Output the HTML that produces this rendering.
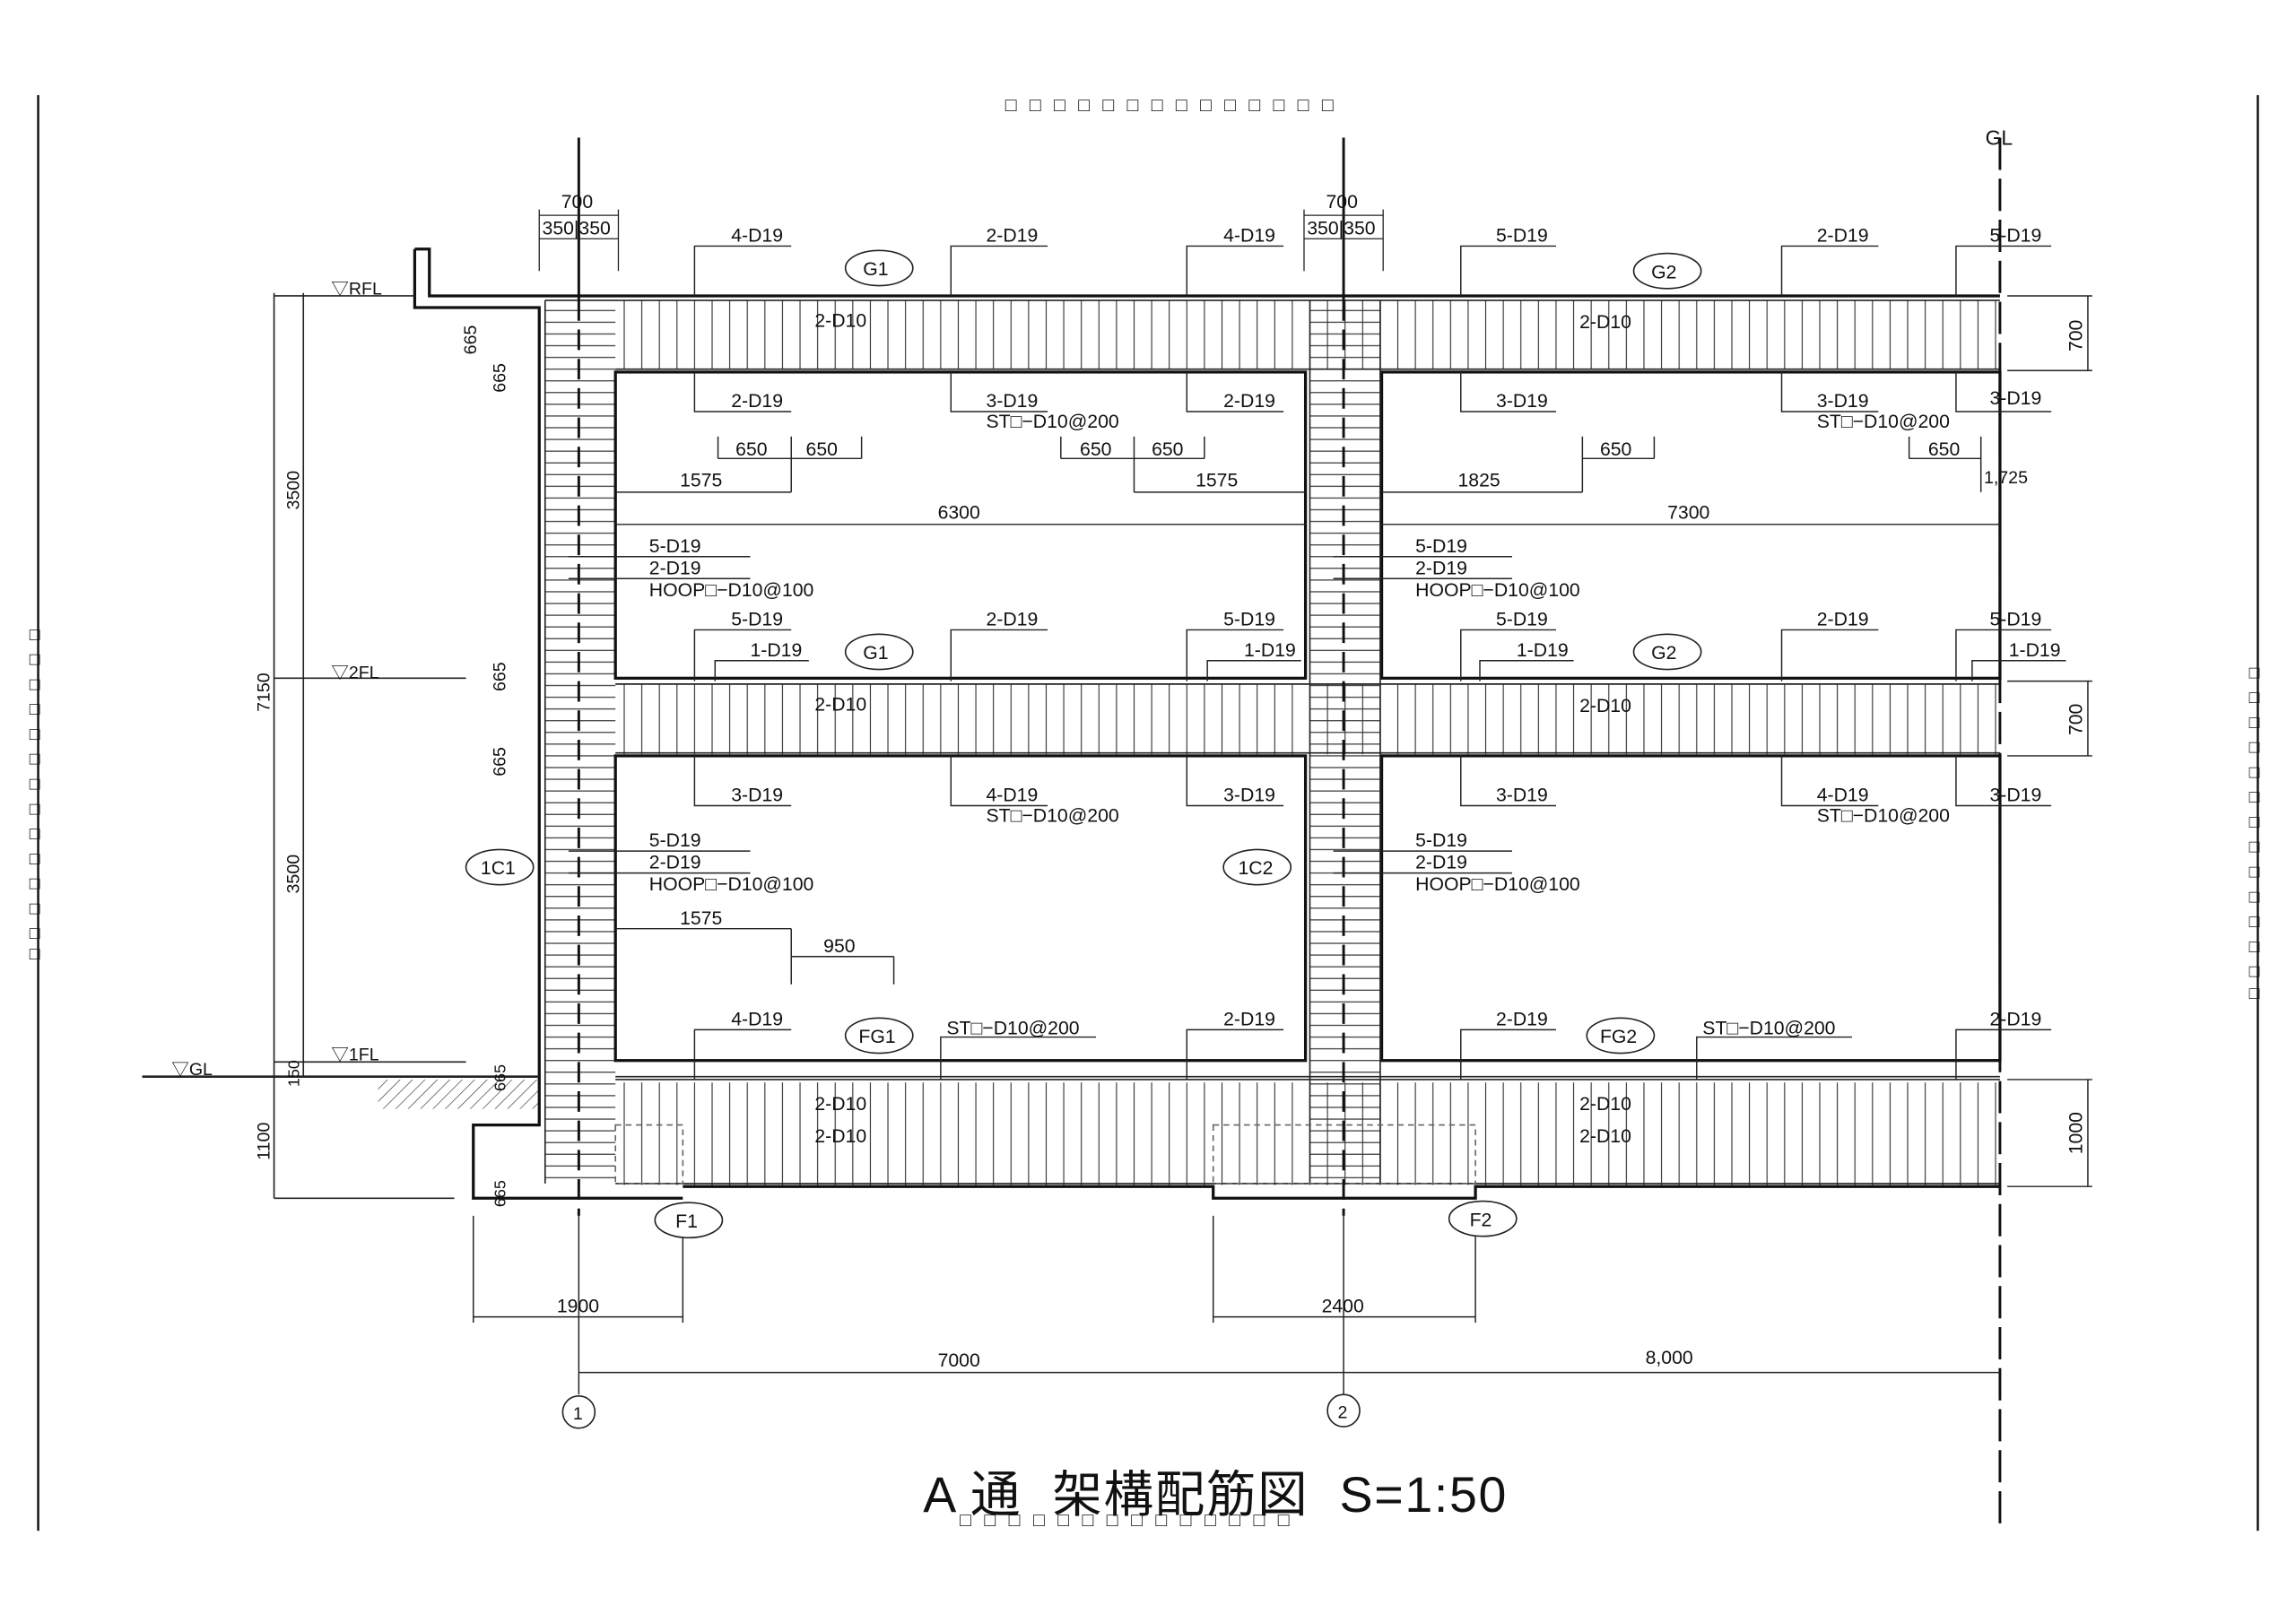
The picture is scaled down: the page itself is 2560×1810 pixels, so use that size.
<!DOCTYPE html>
<html><head><meta charset="utf-8">
<style>
html,body{margin:0;padding:0;background:#fff;}
svg{display:block;}
text{font-family:"Liberation Sans","Noto Sans CJK JP",sans-serif;fill:#111;}
</style></head>
<body>
<svg width="2560" height="1810" viewBox="0 0 1567 1108" xmlns="http://www.w3.org/2000/svg">
<defs>
<pattern id="vb" width="12" height="10" patternUnits="userSpaceOnUse"><line x1="6" y1="0" x2="6" y2="10" stroke="#333" stroke-width="0.7"/></pattern>
<pattern id="hc" width="10" height="8" patternUnits="userSpaceOnUse"><line x1="0" y1="4" x2="10" y2="4" stroke="#333" stroke-width="0.7"/></pattern>
<pattern id="gh" width="6" height="6" patternUnits="userSpaceOnUse" patternTransform="rotate(45)"><line x1="0" y1="0" x2="0" y2="6" stroke="#333" stroke-width="0.8"/></pattern>
</defs>
<rect width="1567" height="1108" fill="#fff"/>
<!-- frame -->
<line x1="26" y1="65" x2="26" y2="1045" stroke="#111" stroke-width="1.5"/>
<line x1="1541" y1="65" x2="1541" y2="1045" stroke="#111" stroke-width="1.5"/>
<g fill="#888" font-size="13">
<text x="686" y="76" textLength="224" lengthAdjust="spacing">□□□□□□□□□□□□□□</text>
<text x="655" y="1042" textLength="225" lengthAdjust="spacing">□□□□□□□□□□□□□□</text>
</g>
<g fill="#888" font-size="12">
<text x="20" y="437">□</text><text x="20" y="454">□</text><text x="20" y="471">□</text><text x="20" y="488">□</text><text x="20" y="505">□</text><text x="20" y="522">□</text><text x="20" y="539">□</text><text x="20" y="556">□</text><text x="20" y="573">□</text><text x="20" y="590">□</text><text x="20" y="607">□</text><text x="20" y="624">□</text><text x="20" y="641">□</text><text x="20" y="655">□</text>
<text x="1535" y="463">□</text><text x="1535" y="480">□</text><text x="1535" y="497">□</text><text x="1535" y="514">□</text><text x="1535" y="531">□</text><text x="1535" y="548">□</text><text x="1535" y="565">□</text><text x="1535" y="582">□</text><text x="1535" y="599">□</text><text x="1535" y="616">□</text><text x="1535" y="633">□</text><text x="1535" y="650">□</text><text x="1535" y="667">□</text><text x="1535" y="682">□</text>
</g>

<rect x="420" y="205" width="945" height="47" fill="url(#vb)"/>
<rect x="420" y="467" width="945" height="48" fill="url(#vb)"/>
<rect x="420" y="739" width="945" height="70" fill="url(#vb)"/>
<rect x="372" y="205" width="48" height="603" fill="url(#hc)"/>
<rect x="894" y="205" width="48" height="603" fill="url(#hc)"/>
<rect x="258" y="737" width="110" height="20" fill="url(#gh)"/>

<g fill="none" stroke="#111" stroke-width="2">
<path d="M283 170 H293 V202 H1365"/>
<path d="M283 170 V210 H368 V768 H323 V818 H466"/>
<rect x="420" y="254" width="471" height="209"/>
<rect x="943" y="254" width="422" height="209"/>
<rect x="420" y="516" width="471" height="208"/>
<rect x="943" y="516" width="422" height="208"/>
<path d="M466 810 H828 V818 H1007 V810 H1365"/>
</g>
<g fill="none" stroke="#222" stroke-width="1">
<line x1="420" y1="735" x2="1365" y2="735"/>
<line x1="420" y1="737" x2="1365" y2="737"/>
<line x1="372" y1="205" x2="1365" y2="205"/>
<line x1="420" y1="252" x2="1365" y2="252"/>
<line x1="420" y1="467" x2="1365" y2="467"/>
<line x1="420" y1="514" x2="1365" y2="514"/>
<line x1="372" y1="205" x2="372" y2="808"/>
<line x1="894" y1="205" x2="894" y2="808"/>
<line x1="942" y1="205" x2="942" y2="808"/>
<line x1="420" y1="808" x2="1365" y2="808"/>
<rect x="420" y="768" width="46" height="40" stroke-dasharray="4 3" stroke="#666"/>
<rect x="828" y="768" width="179" height="40" stroke-dasharray="4 3" stroke="#666"/>
</g>
<g stroke="#111" stroke-width="1.8">
<line x1="395" y1="94" x2="395" y2="205"/>
<line x1="395" y1="205" x2="395" y2="830" stroke-dasharray="14 6"/>
<line x1="917" y1="94" x2="917" y2="205"/>
<line x1="917" y1="205" x2="917" y2="830" stroke-dasharray="14 6"/>
<line x1="1365" y1="94" x2="1365" y2="1045" stroke-dasharray="22 6"/>
</g>
<text x="1355" y="99" font-size="14">GL</text>

<g stroke="#222" stroke-width="1" fill="none">
<line x1="187" y1="202" x2="283" y2="202"/>
<line x1="187" y1="463" x2="318" y2="463"/>
<line x1="187" y1="725" x2="318" y2="725"/>
<line x1="97" y1="735" x2="368" y2="735" stroke-width="1.6"/>
<line x1="187" y1="818" x2="310" y2="818"/>
<line x1="187" y1="200" x2="187" y2="818"/>
<line x1="207" y1="200" x2="207" y2="735"/>
</g>
<g font-size="12">
<text x="226" y="201">▽RFL</text>
<text x="226" y="463">▽2FL</text>
<text x="226" y="724">▽1FL</text>
<text x="117" y="734">▽GL</text>
<text transform="translate(184,486) rotate(-90)">7150</text>
<text transform="translate(204,348) rotate(-90)">3500</text>
<text transform="translate(204,610) rotate(-90)">3500</text>
<text transform="translate(204,742) rotate(-90)" font-size="11">150</text>
<text transform="translate(184,792) rotate(-90)">1100</text>
<text transform="translate(325,242) rotate(-90)">665</text>
<text transform="translate(345,268) rotate(-90)">665</text>
<text transform="translate(345,472) rotate(-90)" fill="#555">665</text>
<text transform="translate(345,530) rotate(-90)" fill="#555">665</text>
<text transform="translate(345,745) rotate(-90)" fill="#555" font-size="11">665</text>
<text transform="translate(345,824) rotate(-90)" fill="#555" font-size="11">665</text>
</g>

<g stroke="#222" stroke-width="0.8" fill="none">
<line x1="368" y1="147" x2="422" y2="147"/><line x1="368" y1="163" x2="422" y2="163"/>
<line x1="368" y1="143" x2="368" y2="185"/><line x1="422" y1="143" x2="422" y2="185"/>
<line x1="890" y1="147" x2="944" y2="147"/><line x1="890" y1="163" x2="944" y2="163"/>
<line x1="890" y1="143" x2="890" y2="185"/><line x1="944" y1="143" x2="944" y2="185"/>
</g>
<g font-size="13">
<text x="383" y="142">700</text><text x="370" y="160">350|350</text>
<text x="905" y="142">700</text><text x="892" y="160">350|350</text>
</g>

<g stroke="#222" stroke-width="0.9" fill="none">
<path d="M474 202 V168 H540"/><path d="M649 202 V168 H715"/><path d="M810 202 V168 H876"/>
<path d="M997 202 V168 H1062"/><path d="M1216 202 V168 H1282"/><path d="M1335 202 V168 H1400"/>
<path d="M474 254 V281 H540"/><path d="M649 254 V281 H715"/><path d="M810 254 V281 H876"/>
<path d="M997 254 V281 H1062"/><path d="M1216 254 V281 H1282"/><path d="M1335 254 V281 H1400"/>
<path d="M474 465 V430 H540"/><path d="M488 465 V451 H552"/><path d="M649 465 V430 H715"/><path d="M810 465 V430 H876"/><path d="M824 465 V451 H888"/>
<path d="M997 465 V430 H1062"/><path d="M1010 465 V451 H1074"/><path d="M1216 465 V430 H1282"/><path d="M1335 465 V430 H1400"/><path d="M1346 465 V451 H1410"/>
<path d="M474 516 V550 H540"/><path d="M649 516 V550 H715"/><path d="M810 516 V550 H876"/>
<path d="M997 516 V550 H1062"/><path d="M1216 516 V550 H1282"/><path d="M1335 516 V550 H1400"/>
<path d="M474 737 V703 H540"/><path d="M642 737 V708 H748"/><path d="M810 737 V703 H876"/>
<path d="M997 737 V703 H1062"/><path d="M1158 737 V708 H1264"/><path d="M1335 737 V703 H1400"/>
<path d="M388 380 H512"/><path d="M388 395 H512"/><path d="M910 380 H1032"/><path d="M910 395 H1032"/>
<path d="M388 581 H512"/><path d="M388 596 H512"/><path d="M910 581 H1032"/><path d="M910 596 H1032"/>
<line x1="490" y1="313" x2="588" y2="313"/><line x1="490" y1="298" x2="490" y2="313"/><line x1="540" y1="298" x2="540" y2="336"/><line x1="588" y1="298" x2="588" y2="313"/>
<line x1="420" y1="336" x2="540" y2="336"/>
<line x1="724" y1="313" x2="822" y2="313"/><line x1="724" y1="298" x2="724" y2="313"/><line x1="774" y1="298" x2="774" y2="336"/><line x1="822" y1="298" x2="822" y2="313"/>
<line x1="774" y1="336" x2="891" y2="336"/>
<line x1="420" y1="358" x2="891" y2="358"/>
<line x1="943" y1="336" x2="1080" y2="336"/><line x1="1080" y1="298" x2="1080" y2="336"/><line x1="1080" y1="313" x2="1129" y2="313"/><line x1="1129" y1="298" x2="1129" y2="313"/>
<line x1="1303" y1="313" x2="1352" y2="313"/><line x1="1303" y1="298" x2="1303" y2="313"/><line x1="1352" y1="298" x2="1352" y2="336"/>
<line x1="943" y1="358" x2="1365" y2="358"/>
<line x1="420" y1="634" x2="540" y2="634"/><line x1="540" y1="634" x2="540" y2="672"/><line x1="540" y1="653" x2="610" y2="653"/><line x1="610" y1="653" x2="610" y2="672"/>
<line x1="1370" y1="202" x2="1428" y2="202"/><line x1="1370" y1="253" x2="1428" y2="253"/><line x1="1425" y1="202" x2="1425" y2="253"/>
<line x1="1370" y1="465" x2="1428" y2="465"/><line x1="1370" y1="516" x2="1428" y2="516"/><line x1="1425" y1="465" x2="1425" y2="516"/>
<line x1="1370" y1="737" x2="1428" y2="737"/><line x1="1370" y1="810" x2="1428" y2="810"/><line x1="1425" y1="737" x2="1425" y2="810"/>
<line x1="323" y1="830" x2="323" y2="903"/><line x1="466" y1="830" x2="466" y2="903"/><line x1="323" y1="899" x2="466" y2="899"/>
<line x1="828" y1="830" x2="828" y2="903"/><line x1="1007" y1="830" x2="1007" y2="903"/><line x1="828" y1="899" x2="1007" y2="899"/>
<line x1="395" y1="830" x2="395" y2="952"/><line x1="917" y1="830" x2="917" y2="952"/>
<line x1="395" y1="937" x2="1365" y2="937"/>
</g>

<g fill="#fff" stroke="#222" stroke-width="1">
<ellipse cx="600" cy="183" rx="23" ry="12"/><ellipse cx="1138" cy="185" rx="23" ry="12"/>
<ellipse cx="600" cy="445" rx="23" ry="12"/><ellipse cx="1138" cy="445" rx="23" ry="12"/>
<ellipse cx="341" cy="592" rx="23" ry="12"/><ellipse cx="858" cy="592" rx="23" ry="12"/>
<ellipse cx="600" cy="707" rx="23" ry="12"/><ellipse cx="1106" cy="707" rx="23" ry="12"/>
<ellipse cx="470" cy="833" rx="23" ry="12"/><ellipse cx="1012" cy="832" rx="23" ry="12"/>
<circle cx="395" cy="964" r="11"/><circle cx="917" cy="963" r="11"/>
</g>

<g font-size="13">
<text x="589" y="188">G1</text><text x="1127" y="190">G2</text>
<text x="589" y="450">G1</text><text x="1127" y="450">G2</text>
<text x="328" y="597">1C1</text><text x="845" y="597">1C2</text>
<text x="586" y="712">FG1</text><text x="1092" y="712">FG2</text>
<text x="461" y="838">F1</text><text x="1003" y="837">F2</text>
<text x="391" y="969" font-size="12">1</text><text x="913" y="968" font-size="12">2</text>

<text x="499" y="165">4-D19</text><text x="673" y="165">2-D19</text><text x="835" y="165">4-D19</text>
<text x="1021" y="165">5-D19</text><text x="1240" y="165">2-D19</text><text x="1358" y="165">5-D19</text>
<text x="556" y="223">2-D10</text><text x="1078" y="224">2-D10</text>
<text x="499" y="278">2-D19</text><text x="673" y="278">3-D19</text><text x="673" y="292">ST□−D10@200</text><text x="835" y="278">2-D19</text>
<text x="1021" y="278">3-D19</text><text x="1240" y="278">3-D19</text><text x="1240" y="292">ST□−D10@200</text><text x="1358" y="276">3-D19</text>
<text x="502" y="311">650</text><text x="550" y="311">650</text><text x="464" y="332">1575</text>
<text x="737" y="311">650</text><text x="786" y="311">650</text><text x="816" y="332">1575</text>
<text x="640" y="354">6300</text><text x="995" y="332">1825</text><text x="1092" y="311">650</text><text x="1316" y="311">650</text>
<text x="1138" y="354">7300</text><text x="1354" y="330" fill="#777" font-size="12">1,725</text>
<text x="443" y="377">5-D19</text><text x="443" y="392">2-D19</text><text x="443" y="407">HOOP□−D10@100</text>
<text x="966" y="377">5-D19</text><text x="966" y="392">2-D19</text><text x="966" y="407">HOOP□−D10@100</text>
<text x="499" y="427">5-D19</text><text x="512" y="448">1-D19</text><text x="673" y="427">2-D19</text><text x="835" y="427">5-D19</text><text x="849" y="448">1-D19</text>
<text x="1021" y="427">5-D19</text><text x="1035" y="448">1-D19</text><text x="1240" y="427">2-D19</text><text x="1358" y="427">5-D19</text><text x="1371" y="448">1-D19</text>
<text x="556" y="485">2-D10</text><text x="1078" y="486">2-D10</text>
<text x="499" y="547">3-D19</text><text x="673" y="547">4-D19</text><text x="673" y="561">ST□−D10@200</text><text x="835" y="547">3-D19</text>
<text x="1021" y="547">3-D19</text><text x="1240" y="547">4-D19</text><text x="1240" y="561">ST□−D10@200</text><text x="1358" y="547">3-D19</text>
<text x="443" y="578">5-D19</text><text x="443" y="593">2-D19</text><text x="443" y="608">HOOP□−D10@100</text>
<text x="966" y="578">5-D19</text><text x="966" y="593">2-D19</text><text x="966" y="608">HOOP□−D10@100</text>
<text x="464" y="631">1575</text><text x="562" y="650">950</text>
<text x="499" y="700">4-D19</text><text x="646" y="706">ST□−D10@200</text><text x="835" y="700">2-D19</text>
<text x="1021" y="700">2-D19</text><text x="1162" y="706">ST□−D10@200</text><text x="1358" y="700">2-D19</text>
<text x="556" y="758">2-D10</text><text x="556" y="780">2-D10</text><text x="1078" y="758">2-D10</text><text x="1078" y="780">2-D10</text>
<text transform="translate(1421,240) rotate(-90)">700</text>
<text transform="translate(1421,502) rotate(-90)">700</text>
<text transform="translate(1421,788) rotate(-90)">1000</text>
<text x="380" y="896">1900</text><text x="902" y="896">2400</text>
<text x="640" y="933">7000</text><text x="1123" y="931">8,000</text>
</g>
<text x="630" y="1032" font-size="34" textLength="398" lengthAdjust="spacing" xml:space="preserve">A 通  架構配筋図  S=1:50</text>
</svg>
</body></html>
